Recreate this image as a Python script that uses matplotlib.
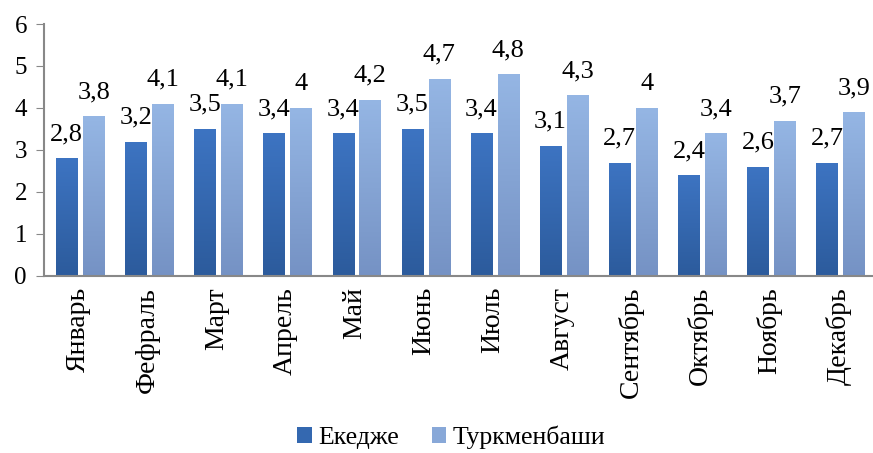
import numpy as np
import matplotlib.pyplot as plt
from matplotlib.colors import LinearSegmentedColormap
from matplotlib.patches import Patch

months = ['Январь', 'Фефраль', 'Март', 'Апрель', 'Май', 'Июнь', 'Июль',
          'Август', 'Сентябрь', 'Октябрь', 'Ноябрь', 'Декабрь']
ekedzhe = [2.8, 3.2, 3.5, 3.4, 3.4, 3.5, 3.4, 3.1, 2.7, 2.4, 2.6, 2.7]
turkmenbashi = [3.8, 4.1, 4.1, 4.0, 4.2, 4.7, 4.8, 4.3, 4.0, 3.4, 3.7, 3.9]
series_names = ['Екедже', 'Туркменбаши']

plt.rcParams['font.family'] = 'serif'
plt.rcParams['font.serif'] = ['Liberation Serif', 'DejaVu Serif']

fig = plt.figure(figsize=(8.73, 4.53), dpi=100)
ax = fig.add_axes([0.05, 0.391, 0.95, 0.556])

dark_cmap = LinearSegmentedColormap.from_list('dark', ['#2c5b9c', '#3d74c2'])
light_cmap = LinearSegmentedColormap.from_list('light', ['#7592c4', '#95b6e4'])
grad = np.linspace(0, 1, 256).reshape(-1, 1)

x = np.arange(len(months))
w = 0.31


def gradient_bars(xs, vals, cmap, color):
    bars = ax.bar(xs, vals, width=w, color=color, linewidth=0)
    for b in bars:
        bx, by = b.get_x(), b.get_y()
        bw, bh = b.get_width(), b.get_height()
        im = ax.imshow(grad, cmap=cmap, origin='lower', aspect='auto',
                       extent=[bx, bx + bw, by, by + bh], zorder=2)
        im.set_clip_path(b)
        b.set_alpha(0)
    for xi, v in zip(xs, vals):
        ax.annotate(('%g' % v).replace('.', ','), (xi, v), xytext=(0, 13),
                    textcoords='offset points', ha='center', va='baseline',
                    fontsize=19)


gradient_bars(x - 0.165, ekedzhe, dark_cmap, '#3468b0')
gradient_bars(x + 0.225, turkmenbashi, light_cmap, '#88a8d8')

ax.set_xlim(-0.5, 11.5)
ax.set_ylim(0, 6)
ax.set_yticks(range(7))
ax.tick_params(axis='y', labelsize=18, length=6, color='#888888', pad=6)
ax.tick_params(axis='x', length=0, labelsize=20, pad=8)
ax.set_xticks(x)
ax.set_xticklabels(months, rotation=90)
for s in ['top', 'right']:
    ax.spines[s].set_visible(False)
for s in ['left', 'bottom']:
    ax.spines[s].set_color('#888888')
    ax.spines[s].set_linewidth(1.5)

handles = [Patch(facecolor='#3468b0'), Patch(facecolor='#88a8d8')]
fig.legend(handles, series_names, loc='center', bbox_to_anchor=(0.517, 0.035),
           ncol=2, frameon=False, fontsize=18.5, handlelength=0.55,
           handleheight=0.55, handletextpad=0.25, columnspacing=1.3)

fig.savefig('out.png', dpi=100)
